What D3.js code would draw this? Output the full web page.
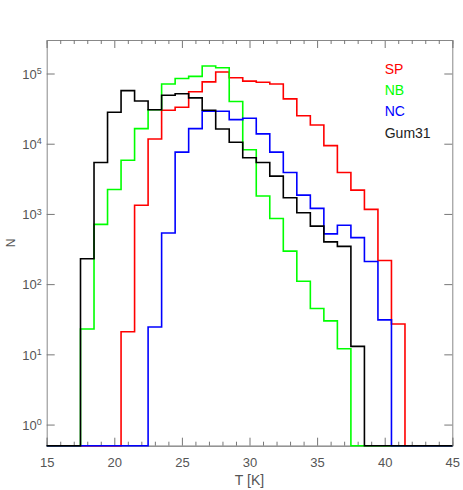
<html>
<head>
  <title>T histograms</title>
  <script src="https://d3js.org/d3.v7.min.js"></script>
  <style>
    body { margin: 0; background: #fff; }
    text { font-family: "Liberation Sans", Arial, sans-serif; }
  </style>
</head>
<body>
  <div id="chart"></div>
  <script type="text/javascript">

    // bin centres in K (bin width 1 K)
    var T = [15, 16, 17, 18, 19, 20, 21, 22, 23, 24, 25, 26, 27, 28, 29, 30,
             31, 32, 33, 34, 35, 36, 37, 38, 39, 40, 41, 42, 43, 44, 45];

    // counts per bin, same order as T
    var SP =    [0, 0, 0, 0, 0, 0, 21, 1330, 11700, 29900, 33000, 55000, 76000, 105000, 87000, 78000,
                 75000, 71000, 43500, 25000, 18500, 9400, 3900, 2180, 1160, 217, 27, 0, 0, 0, 0];
    var NB =    [0, 0, 0, 23, 710, 2230, 5800, 16400, 30500, 71000, 85000, 91000, 128000, 121000, 40000, 8200,
                 1800, 860, 295, 110, 45, 30, 12, 0, 0, 0, 0, 0, 0, 0, 0];
    var NC =    [0, 0, 0, 0, 0, 0, 0, 0, 24.5, 535, 7600, 16400, 29000, 29000, 22000, 23000,
                 13800, 7600, 3900, 1850, 1200, 520, 690, 460, 210, 31, 0, 0, 0, 0, 0];
    var Gum31 = [0, 0, 0, 230, 5400, 28000, 57000, 40500, 30500, 49000, 51500, 45000, 30000, 16200, 10500, 6300,
                 5400, 3450, 1700, 1040, 670, 400, 345, 13, 0, 0, 0, 0, 0, 0, 0];

    var seriesNames = ['SP', 'NB', 'NC', 'Gum31'];
    var seriesColors = ['#ff0000', '#00ff00', '#0000ff', '#000000'];
    var seriesData = [SP, NB, NC, Gum31];

    var yTicks = [1, 10, 100, 1000, 10000, 100000];
    var xMajor = [15, 20, 25, 30, 35, 40, 45];

    var margin = {top: 40, right: 10.7, bottom: 44.3, left: 46.7};
    var width = 463 - margin.left - margin.right;
    var height = 490 - margin.top - margin.bottom;

    var x = d3.scaleLinear().domain([15, 45]).range([0, width]);
    var y = d3.scaleLog().domain([0.5, 3e5]).range([height, 0]);
    var floor = y.domain()[0];

    var svg = d3.select('#chart')
                .append('svg')
                  .attr('width', 463)
                  .attr('height', 490)
                .append('g')
                  .attr('transform', 'translate(' + margin.left + ',' + margin.top + ')');

    // axes, ticks pointing inwards
    var xMinor = T.filter(function(t) { return t % 5 !== 0; });

    function styleAxis(g) {
      g.selectAll('.domain').attr('stroke', '#888');
      g.selectAll('.tick line').attr('stroke', '#777');
      g.selectAll('.tick text').attr('fill', '#555').style('font-size', '13px')
       .style('font-family', '"Liberation Sans", Arial, sans-serif');
    }

    svg.append('g')
       .attr('transform', 'translate(0,' + height + ')')
       .call(d3.axisBottom(x).tickValues(xMajor).tickSize(-8).tickPadding(12).tickFormat(d3.format('d')))
       .call(styleAxis);
    svg.append('g')
       .attr('transform', 'translate(0,' + height + ')')
       .call(d3.axisBottom(x).tickValues(xMinor).tickSize(-4).tickFormat(''))
       .call(styleAxis);
    svg.append('g')
       .call(d3.axisTop(x).tickValues(xMajor).tickSize(-8).tickFormat(''))
       .call(styleAxis);
    svg.append('g')
       .call(d3.axisTop(x).tickValues(xMinor).tickSize(-4).tickFormat(''))
       .call(styleAxis);

    svg.append('g')
       .call(d3.axisLeft(y).tickValues(yTicks).tickSize(-8).tickFormat(''))
       .call(styleAxis);
    svg.append('g')
       .attr('transform', 'translate(' + width + ',0)')
       .call(d3.axisRight(y).tickValues(yTicks).tickSize(-8).tickFormat(''))
       .call(styleAxis);

    // histograms as steps, drawn over the axes
    var line = d3.line()
                 .x(function(d) { return x(d[0]); })
                 .y(function(d) { return y(Math.max(d[1], floor)); })
                 .curve(d3.curveStepAfter);

    seriesData.forEach(function(vals, k) {
      var pts = T.map(function(t, i) { return [Math.max(t - 0.5, 15), vals[i]]; });
      pts.push([45, vals[vals.length - 1]]);
      svg.append('path')
         .datum(pts)
         .attr('d', line)
         .attr('fill', 'none')
         .attr('stroke', seriesColors[k])
         .attr('stroke-width', 1.6);
    });

    // y tick labels as 10^n
    var yLab = svg.append('g').selectAll('text')
                  .data(yTicks)
                  .enter().append('text')
                    .attr('x', -5)
                    .attr('y', function(d) { return y(d); })
                    .attr('dy', '0.4em')
                    .attr('text-anchor', 'end')
                    .attr('fill', '#555')
                    .style('font-size', '13px');
    yLab.append('tspan').text('10');
    yLab.append('tspan')
        .attr('dy', '-0.5em')
        .style('font-size', '9px')
        .text(function(d) { return Math.round(Math.log10(d)); });

    // axis titles
    svg.append('text')
       .text('T [K]')
       .attr('x', width / 2)
       .attr('y', height + 39)
       .attr('text-anchor', 'middle')
       .attr('fill', '#555')
       .style('font-size', '14px');

    svg.append('text')
       .text('N')
       .attr('transform', 'rotate(-90)')
       .attr('x', -height / 2)
       .attr('y', -32)
       .attr('text-anchor', 'middle')
       .attr('fill', '#555')
       .style('font-size', '12px');

    // legend
    svg.append('g').selectAll('text')
       .data(seriesNames)
       .enter().append('text')
         .attr('x', 338)
         .attr('y', function(d, i) { return 29 + i * 21.2; })
         .attr('dy', '0.35em')
         .attr('fill', function(d, i) { return i === 3 ? '#222' : seriesColors[i]; })
         .style('font-size', '14px')
         .text(function(d) { return d; });

  </script>
</body>
</html>
